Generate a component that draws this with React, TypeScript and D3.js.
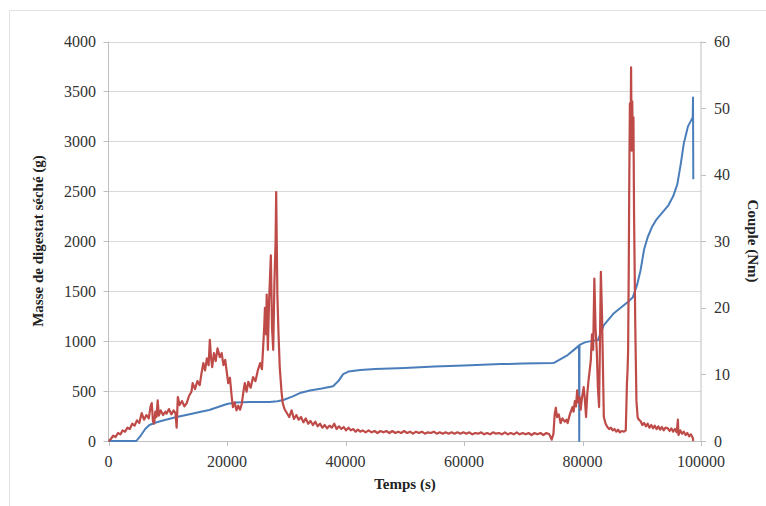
import React from 'react';
import { scaleLinear, line } from 'd3';

// time (s), dried digestate mass (g)
const masseSeche: [number, number][] = [
    [0, 0], [2000, 0], [4700, 0], [5500, 60], [6200, 120], [6900, 160], [8000, 185], [9500, 210],
    [11500, 240], [13500, 265], [15400, 290], [17000, 310], [18500, 340], [20000, 370], [21500, 385],
    [23900, 390], [27200, 390], [28500, 398], [29500, 410], [31000, 445], [32300, 480], [34000, 505],
    [36000, 525], [37900, 548], [38800, 600], [39600, 670], [40500, 695], [42500, 710], [45000, 720],
    [50000, 730], [55000, 745], [60000, 755], [66200, 770], [70000, 775], [75100, 780], [76300, 820],
    [77500, 860], [78500, 910], [79400, 955], [79450, 0], [79500, 962], [80500, 990], [81900, 1005],
    [82600, 1010], [83600, 1160], [85300, 1280], [87600, 1390], [88500, 1440], [89200, 1560],
    [89800, 1710], [90400, 1920], [91000, 2040], [91700, 2140], [92500, 2220], [93500, 2290], [94500, 2360],
    [95300, 2450], [96000, 2570], [96600, 2780], [97100, 2980], [97800, 3150], [98600, 3240],
    [98650, 3440], [98700, 2620],
];

// time (s), torque (Nm)
const couple: [number, number][] = [
    [0, 0], [400, 0.3], [800, 0.8], [1200, 0.6], [1600, 1.2], [2000, 1.0], [2400, 1.6], [2800, 1.4],
    [3200, 2.0], [3600, 1.8], [4000, 2.6], [4400, 2.3], [4800, 3.1], [5200, 2.7], [5600, 4.2], [6000, 3.2],
    [6400, 3.9], [6800, 3.4], [7100, 5.2], [7300, 5.7], [7500, 3.0], [7700, 2.6], [7900, 4.4], [8100, 3.6],
    [8300, 6.1], [8500, 3.8], [8800, 4.6], [9200, 3.9], [9600, 4.4], [9800, 4.1], [10200, 4.8], [10600, 4.0],
    [11000, 4.6], [11300, 4.2], [11500, 2.0], [11700, 6.6], [12000, 5.4], [12400, 6.0], [12800, 5.2],
    [13200, 5.7], [13600, 6.8], [14000, 7.4], [14200, 8.7], [14600, 7.8], [15000, 9.0], [15400, 8.4],
    [15700, 10.2], [16000, 11.7], [16300, 10.6], [16600, 12.4], [16900, 11.4], [17100, 15.2], [17300, 12.6],
    [17500, 11.1], [17800, 13.2], [18100, 12.0], [18400, 13.9], [18800, 12.6], [19100, 13.2], [19400, 11.4],
    [19700, 12.2], [20000, 10.1], [20200, 8.7], [20500, 9.5], [20800, 6.6], [21000, 5.1], [21300, 5.8],
    [21600, 4.6], [21900, 5.3], [22200, 4.7], [22500, 5.6], [22800, 7.6], [23000, 8.7], [23300, 7.4],
    [23600, 8.9], [24000, 8.0], [24400, 9.6], [24800, 9.0], [25200, 10.6], [25600, 11.7], [25900, 10.8],
    [26100, 14.1], [26300, 17.5], [26400, 20.0], [26600, 16.0], [26700, 22.0], [26900, 13.7], [27100, 21.0],
    [27400, 27.9], [27600, 17.0], [27800, 13.7], [28000, 23.7], [28200, 30.0], [28300, 37.4], [28500, 22.0],
    [28700, 16.0], [28900, 11.1], [29200, 7.4], [29400, 5.7], [29700, 4.8], [30100, 4.2], [30500, 3.6],
    [30900, 4.6], [31300, 3.3], [31700, 3.9], [32100, 3.2], [32500, 3.6], [32900, 2.8], [33300, 3.4],
    [33700, 2.6], [34100, 3.0], [34500, 2.4], [34900, 2.9], [35300, 2.2], [35700, 2.6], [36100, 2.0],
    [36500, 2.4], [36900, 1.9], [37300, 2.3], [37700, 2.0], [38100, 2.6], [38500, 1.8], [38900, 2.2],
    [39300, 1.8], [39700, 2.1], [40100, 1.6], [40500, 2.0], [40900, 1.6], [41300, 1.8], [41700, 1.4],
    [42100, 1.7], [42500, 1.4], [42900, 1.6], [43400, 1.3], [43900, 1.6], [44400, 1.3], [44900, 1.5],
    [45400, 1.2], [45900, 1.5], [46400, 1.3], [46900, 1.5], [47400, 1.2], [47900, 1.5], [48400, 1.2],
    [48900, 1.4], [49400, 1.2], [49900, 1.5], [50400, 1.2], [50900, 1.4], [51400, 1.1], [51900, 1.4],
    [52400, 1.2], [52900, 1.4], [53400, 1.1], [53900, 1.3], [54400, 1.2], [54900, 1.4], [55400, 1.1],
    [55900, 1.3], [56400, 1.1], [56900, 1.3], [57400, 1.1], [57900, 1.3], [58400, 1.1], [58900, 1.3],
    [59400, 1.1], [59900, 1.3], [60400, 1.1], [60900, 1.3], [61400, 1.0], [61900, 1.2], [62400, 1.1],
    [62900, 1.3], [63400, 1.0], [63900, 1.2], [64400, 1.0], [64900, 1.3], [65400, 1.1], [65900, 1.2],
    [66400, 1.0], [66900, 1.3], [67400, 1.0], [67900, 1.2], [68400, 1.0], [68900, 1.3], [69400, 1.0],
    [69900, 1.2], [70400, 1.0], [70900, 1.2], [71400, 0.9], [71900, 1.2], [72400, 1.0], [72900, 1.2],
    [73400, 0.9], [73900, 1.2], [74400, 1.0], [74800, 0.2], [75100, 1.1], [75300, 4.0], [75500, 5.0],
    [75700, 3.6], [76000, 4.0], [76300, 2.7], [76600, 3.4], [77000, 2.9], [77300, 3.2], [77500, 2.7],
    [77800, 3.8], [78100, 4.6], [78300, 5.1], [78500, 4.4], [78700, 6.0], [78900, 5.2], [79100, 7.6],
    [79300, 5.8], [79500, 6.6], [79700, 4.7], [79900, 6.4], [80200, 8.1], [80400, 6.2], [80600, 3.6],
    [80800, 7.0], [81000, 9.0], [81200, 10.5], [81400, 12.1], [81600, 16.0], [81800, 13.7], [82000, 24.4],
    [82200, 17.0], [82400, 13.7], [82600, 8.0], [82800, 5.1], [83100, 25.4], [83300, 18.6], [83600, 3.6],
    [83900, 2.6], [84200, 2.1], [84500, 1.8], [84800, 2.0], [85100, 1.6], [85400, 1.8], [85700, 1.4],
    [86000, 1.7], [86300, 1.3], [86600, 1.5], [87000, 1.4], [87300, 1.6], [87400, 5.0], [87500, 8.7],
    [87600, 10.5], [87700, 13.7], [87800, 25.0], [87900, 40.0], [88000, 50.7], [88100, 44.0], [88200, 56.1],
    [88300, 43.6], [88400, 51.0], [88500, 44.0], [88600, 48.6], [88700, 34.2], [88800, 26.0], [88900, 17.7],
    [89000, 12.0], [89100, 6.1], [89300, 3.6], [89500, 3.2], [89800, 3.0], [90100, 2.4], [90400, 2.7],
    [90700, 2.2], [91000, 2.6], [91300, 2.0], [91600, 2.4], [91900, 1.9], [92200, 2.3], [92500, 1.8],
    [92800, 2.2], [93100, 1.7], [93400, 2.1], [93700, 1.6], [94000, 2.0], [94400, 1.9], [94700, 1.5],
    [95000, 1.9], [95300, 1.4], [95600, 1.8], [95900, 1.3], [96100, 3.2], [96200, 0.9], [96500, 1.6],
    [96800, 1.1], [97100, 1.4], [97400, 0.9], [97700, 1.2], [98000, 0.7], [98300, 1.0], [98600, 0.5],
    [98700, 0],
];

const masseTicks = [0, 500, 1000, 1500, 2000, 2500, 3000, 3500, 4000];
const coupleTicks = [0, 10, 20, 30, 40, 50, 60];
const tempsTicks = [0, 20000, 40000, 60000, 80000, 100000];

const W = 766;
const H = 506;
const left = 108.5;
const right = 701;
const top = 41.5;
const bottom = 441;

const font = "'Liberation Serif', 'Times New Roman', serif";
const gridColor = '#d9d9d9';
const axisColor = '#bfbfbf';
const textColor = '#333';

export default function App() {
    const x = scaleLinear().domain([0, 100000]).range([left, right]);
    const yL = scaleLinear().domain([0, 4000]).range([bottom, top]);
    const yR = scaleLinear().domain([0, 60]).range([bottom, top]);

    const massLine = line<[number, number]>().x(d => x(d[0])).y(d => yL(d[1]));
    const torqueLine = line<[number, number]>().x(d => x(d[0])).y(d => yR(d[1]));

    return (
        <div style={{ position: 'absolute', left: 0, top: 0 }}>
            <svg width={W} height={H} style={{ display: 'block', background: '#fff' }} fontFamily={font}>
                <rect x={9.5} y={10.5} width={800} height={600} fill="none" stroke="#e3e3e3" />

                {masseTicks.map(t => (
                    <g key={'g' + t}>
                        <line x1={left} x2={right} y1={Math.round(yL(t)) + 0.5} y2={Math.round(yL(t)) + 0.5}
                            stroke={t === 0 ? axisColor : gridColor} />
                        <line x1={left - 5} x2={left} y1={Math.round(yL(t)) + 0.5} y2={Math.round(yL(t)) + 0.5} stroke={axisColor} />
                        <text x={96} y={yL(t)} dy="0.35em" textAnchor="end" fontSize={16} fill={textColor}>{t}</text>
                    </g>
                ))}

                <line x1={left} x2={left} y1={top} y2={bottom} stroke={axisColor} />
                <line x1={right} x2={right} y1={top} y2={bottom} stroke={axisColor} />

                {coupleTicks.map(t => (
                    <g key={'r' + t}>
                        <line x1={right} x2={right + 5} y1={Math.round(yR(t)) + 0.5} y2={Math.round(yR(t)) + 0.5} stroke={axisColor} />
                        <text x={714} y={yR(t)} dy="0.35em" textAnchor="start" fontSize={16} fill={textColor}>{t}</text>
                    </g>
                ))}

                {tempsTicks.map(t => (
                    <g key={'x' + t}>
                        <line x1={Math.round(x(t)) + 0.5} x2={Math.round(x(t)) + 0.5} y1={bottom} y2={bottom + 5} stroke={axisColor} />
                        <text x={x(t)} y={467} textAnchor="middle" fontSize={16} fill={textColor}>{t}</text>
                    </g>
                ))}

                <path d={massLine(masseSeche) ?? ''} fill="none" stroke="#4a7ebb" strokeWidth={2} strokeLinejoin="round" />
                <path d={torqueLine(couple) ?? ''} fill="none" stroke="#be4b48" strokeWidth={2.2} strokeLinejoin="round" />

                <text transform="translate(43,241) rotate(-90)" textAnchor="middle" fontSize={15} fontWeight="bold" fill="#222">
                    Masse de digestat séché (g)
                </text>
                <text transform="translate(748,241) rotate(90)" textAnchor="middle" fontSize={15} fontWeight="bold" fill="#222">
                    Couple (Nm)
                </text>
                <text x={405} y={489} textAnchor="middle" fontSize={15} fontWeight="bold" fill="#222">Temps (s)</text>
            </svg>
        </div>
    );
}
